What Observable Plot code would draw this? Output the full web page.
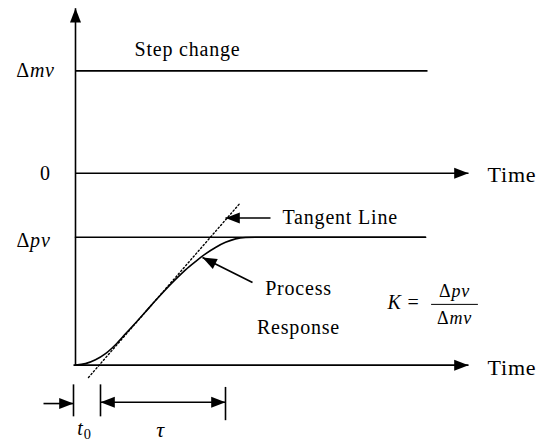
<!DOCTYPE html>
<html>
<head>
<meta charset="utf-8">
<script src="https://cdn.jsdelivr.net/npm/d3@7"></script>
<script src="https://cdn.jsdelivr.net/npm/@observablehq/plot@0.6"></script>
<style>
  html, body { margin: 0; padding: 0; background: #fff; }
  svg text { font-family: "Liberation Serif", "Times New Roman", "DejaVu Serif", serif !important; }
</style>
</head>
<body>
<div id="chart"></div>
<script>
// Diagram units: x = time (t = 0 at the vertical axis), y = signal level
// (bottom axis = 0 for the response, Δpv = 10; zero line of the input = 15, Δmv = 23)

// Process response curve (S-shaped response)
const responseT = [0, 1, 2, 3, 4, 5, 6, 7, 8, 9, 10, 11, 12, 13, 14, 15, 16, 17, 18, 35];
const responseV = [0, 0.12, 0.42, 0.9, 1.6, 2.45, 3.3, 4.17, 5.05, 5.9, 6.7, 7.45, 8.1, 8.7, 9.2, 9.6, 9.87, 9.98, 10, 10];

// Straight segments: axes, levels, arrow shafts, ticks
const segX1 = [0, 0, 0, -0.2, 19.5, 17.7, -3.2, 2.5, -0.2, 2.5, 15];
const segY1 = [0, 23, 15, 0, 11.5, 6.46, -3.0, -2.9, -1.5, -1.5, -1.7];
const segX2 = [0, 35.2, 39.3, 39.3, 15.0, 12.7, -0.2, 15, -0.2, 2.5, 15];
const segY2 = [27.9, 23, 15, 0, 11.5, 8.41, -3.0, -2.9, -4.0, -4.0, -4.3];

// Δpv reference level line
const pvLineX = [0, 35];
const pvLevel = 10;

// Tangent (dotted) line
const tangentT = [1.3, 16.5];
const tangentV = [-0.96, 12.7];

// Fraction bar of K
const fracBarX = [35.6, 40.2];
const fracBarY = 4.75;

// Arrowheads (tip position, direction in degrees clockwise from up)
const headX = [0, 39.3, 39.3, 15.0, 12.7, -0.2, 2.5, 15];
const headY = [27.9, 15, 0, 11.5, 8.41, -3.0, -2.9, -2.9];
const headRot = [0, 90, 90, -90, -63.4, 90, -90, 90];

// Labels  (*...* = italic, _..._ = subscript)
const labelText = ["Step change", "Δ*mv*", "0", "Δ*pv*", "Time", "Time", "Tangent Line", "Process", "Response", "*K* =", "Δ*pv*", "Δ*mv*", "*t*_0_", "*τ*"];
const labelX = [11.2, -4.0, -3.0, -4.2, 41.2, 41.2, 20.7, 22.3, 22.3, 31.2, 37.9, 37.9, 0.9, 8.5];
const labelY = [24.7, 23, 15, 9.75, 14.85, -0.2, 11.5, 6.0, 2.9, 4.9, 5.8, 3.7, -4.95, -5.1];
const labelSize = [20, 20, 20, 20, 22, 22, 20, 20, 20, 20, 18, 18, 20, 22];
const labelAnchor = ["middle", "middle", "middle", "middle", "start", "start", "start", "middle", "middle", "start", "middle", "middle", "middle", "middle"];

// Build tables
const response = responseT.map((t, i) => ({t, v: responseV[i]}));
const segments = segX1.map((x, i) => ({x1: x, y1: segY1[i], x2: segX2[i], y2: segY2[i]}));
const tangent = tangentT.map((t, i) => ({t, v: tangentV[i]}));
const heads = headX.map((x, i) => ({x, y: headY[i], rotate: headRot[i]}));
const labels = labelText.map((text, i) => ({text, x: labelX[i], y: labelY[i], size: labelSize[i], anchor: labelAnchor[i]}));

const arrowHead = {
  draw(ctx, size) {
    const r = Math.sqrt(size / Math.PI);
    const L = 2.6 * r;
    ctx.moveTo(0, 0);
    ctx.lineTo(-r, L);
    ctx.lineTo(r, L);
    ctx.closePath();
  }
};

const font = "Liberation Serif, Times New Roman, DejaVu Serif, serif";

const textMarks = [];
for (const anchor of ["start", "middle", "end"]) {
  for (const size of [...new Set(labelSize)]) {
    const sub = labels.filter(d => d.anchor === anchor && d.size === size);
    if (!sub.length) continue;
    textMarks.push(Plot.text(sub, {
      x: "x", y: "y", text: "text", textAnchor: anchor,
      fontSize: size, fontFamily: font, fill: "black"
    }));
  }
}

const chart = Plot.plot({
  width: 550,
  height: 444,
  margin: 0,
  x: {domain: [-7.5, 47.5], axis: null},
  y: {domain: [-6.2, 28.5], axis: null},
  style: {background: "white", fontFamily: font, letterSpacing: "0.8px"},
  marks: [
    Plot.link(segments, {x1: "x1", y1: "y1", x2: "x2", y2: "y2", stroke: "black", strokeWidth: 1.6}),
    Plot.lineY(pvLineX, {x: d => d, y: () => pvLevel, stroke: "black", strokeWidth: 1.6}),
    Plot.line(response, {x: "t", y: "v", curve: "monotone-x", stroke: "black", strokeWidth: 1.6}),
    Plot.line(tangent, {x: "t", y: "v", stroke: "black", strokeWidth: 1.4, strokeDasharray: "1.4,2.4"}),
    Plot.lineY(fracBarX, {x: d => d, y: () => fracBarY, stroke: "black", strokeWidth: 1}),
    Plot.dot(heads, {x: "x", y: "y", rotate: "rotate", symbol: arrowHead, r: 5.5, fill: "black", stroke: "none"}),
    ...textMarks
  ]
});

// Rich text: italic and subscript segments
chart.querySelectorAll("text").forEach(el => {
  const s = el.textContent;
  if (!/[*_]/.test(s)) return;
  const parts = s.split(/(\*[^*]+\*|_[^_]+_)/).filter(p => p.length);
  el.textContent = "";
  const ns = "http://www.w3.org/2000/svg";
  parts.forEach(p => {
    const ts = document.createElementNS(ns, "tspan");
    if (p.startsWith("*")) {
      ts.textContent = p.slice(1, -1);
      ts.setAttribute("font-style", "italic");
    } else if (p.startsWith("_")) {
      ts.textContent = p.slice(1, -1);
      ts.setAttribute("font-size", "72%");
      ts.setAttribute("dy", "4");
    } else {
      ts.textContent = p;
    }
    el.appendChild(ts);
  });
});

document.getElementById("chart").appendChild(chart);
</script>
</body>
</html>
